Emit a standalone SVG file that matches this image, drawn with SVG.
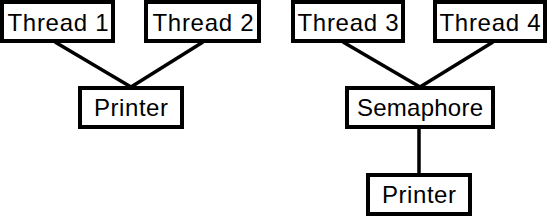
<svg xmlns="http://www.w3.org/2000/svg" width="549" height="217" viewBox="0 0 549 217">
<style>
.box{fill:#fff;stroke:#000;stroke-width:4}
.lbl{font-family:"Liberation Sans",Arial,sans-serif;font-size:24px;fill:#000;text-anchor:middle}
.con{stroke:#000;stroke-width:3.5;fill:none}
</style>
<rect width="549" height="217" fill="#fff"/>
<g id="connectors">
<line class="con" x1="55" y1="42" x2="131" y2="87"/>
<line class="con" x1="203" y1="42" x2="131" y2="87"/>
<line class="con" x1="343" y1="42" x2="420" y2="87"/>
<line class="con" x1="493" y1="42" x2="420" y2="87"/>
<line class="con" x1="419" y1="128" x2="419" y2="174"/>
</g>
<g id="thread1"><rect class="box" x="2" y="2" width="111" height="39"/><text class="lbl" x="58" y="31" textLength="101" lengthAdjust="spacing">Thread 1</text></g>
<g id="thread2"><rect class="box" x="146" y="2" width="113" height="39"/><text class="lbl" x="203" y="31" textLength="101" lengthAdjust="spacing">Thread 2</text></g>
<g id="thread3"><rect class="box" x="293" y="2" width="110" height="39"/><text class="lbl" x="348" y="31" textLength="101" lengthAdjust="spacing">Thread 3</text></g>
<g id="thread4"><rect class="box" x="435" y="2" width="110" height="39"/><text class="lbl" x="490" y="31" textLength="101" lengthAdjust="spacing">Thread 4</text></g>
<g id="printer1"><rect class="box" x="80" y="88" width="102" height="39"/><text class="lbl" x="131" y="116" textLength="74" lengthAdjust="spacing">Printer</text></g>
<g id="semaphore"><rect class="box" x="347" y="88" width="146" height="39"/><text class="lbl" x="420" y="116" textLength="126" lengthAdjust="spacing">Semaphore</text></g>
<g id="printer2"><rect class="box" x="368" y="175" width="102" height="39"/><text class="lbl" x="419" y="203" textLength="74" lengthAdjust="spacing">Printer</text></g>
</svg>
